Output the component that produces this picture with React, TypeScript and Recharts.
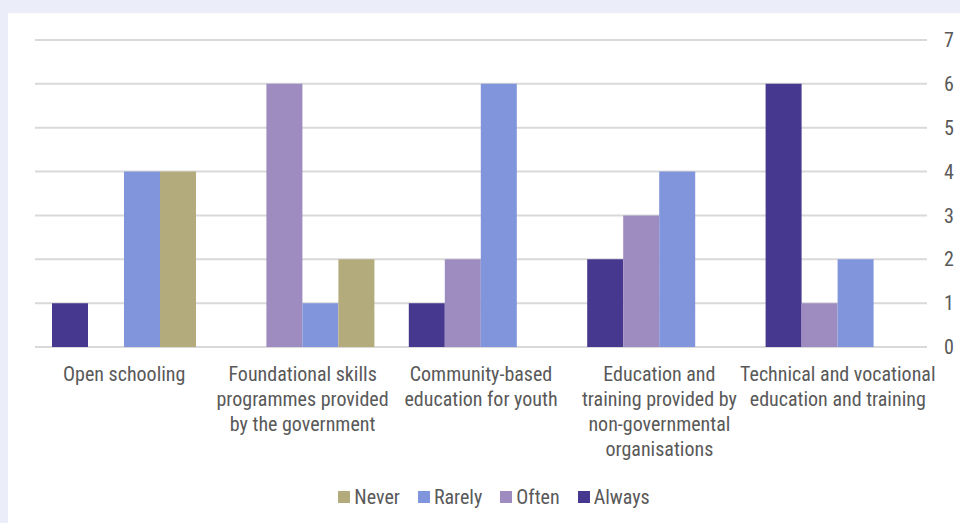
import { BarChart, Bar, XAxis, YAxis, CartesianGrid, Legend } from 'recharts';

const categories = [
  'Open schooling',
  'Foundational skills programmes provided by the government',
  'Community-based education for youth',
  'Education and training provided by non-governmental organisations',
  'Technical and vocational education and training',
];

// how each category label wraps under the axis
const categoryLines = [
  ['Open schooling'],
  ['Foundational skills', 'programmes provided', 'by the government'],
  ['Community-based', 'education for youth'],
  ['Education and', 'training provided by', 'non-governmental', 'organisations'],
  ['Technical and vocational', 'education and training'],
];

const always = [1, 0, 1, 2, 6];
const often = [0, 6, 2, 3, 1];
const rarely = [4, 1, 6, 4, 2];
const never = [4, 2, 0, 0, 0];

const yTicks = [0, 1, 2, 3, 4, 5, 6, 7];
const legendOrder = ['Never', 'Rarely', 'Often', 'Always'];

const COLORS: Record<string, string> = {
  Always: '#46378F',
  Often: '#9E8BC0',
  Rarely: '#8095DC',
  Never: '#B4AB7C',
};

const FONT = "'Roboto Condensed', 'Liberation Sans Narrow', sans-serif";
const TEXT = '#595959';

const data = categories.map((name, i) => ({
  name,
  Always: always[i],
  Often: often[i],
  Rarely: rarely[i],
  Never: never[i],
}));

function CategoryTick(props: any) {
  const { x, y, index } = props;
  const lines = categoryLines[index] || [props.payload.value];
  return (
    <text x={x} y={y} textAnchor="middle" fill={TEXT} fontSize={20} fontFamily={FONT}>
      {lines.map((line: string, i: number) => (
        <tspan key={i} x={x} dy={i === 0 ? 26 : 25}>
          {line}
        </tspan>
      ))}
    </text>
  );
}

function LegendContent(props: any) {
  const items = [...(props.payload || [])].sort(
    (a: any, b: any) => legendOrder.indexOf(a.value) - legendOrder.indexOf(b.value)
  );
  return (
    <div
      style={{
        display: 'flex',
        justifyContent: 'center',
        alignItems: 'center',
        height: 24,
        paddingRight: 7,
        fontFamily: FONT,
        fontSize: 20,
        color: TEXT,
      }}
    >
      {items.map((item: any) => (
        <div key={item.value} style={{ display: 'flex', alignItems: 'center', margin: '0 9px' }}>
          <span
            style={{ width: 12, height: 12, background: item.color, display: 'inline-block', marginRight: 4 }}
          />
          <span>{item.value}</span>
        </div>
      ))}
    </div>
  );
}

export default function App() {
  return (
    <div style={{ position: 'absolute', left: 0, top: 0, width: 960, height: 523, background: '#EBEDF8' }}>
      <div style={{ position: 'absolute', left: 8, top: 13, right: 0, bottom: 0, background: '#FFFFFF' }} />
      <div style={{ position: 'absolute', left: 0, top: 0 }}>
        <BarChart
          width={960}
          height={523}
          data={data}
          margin={{ top: 40, right: 0, left: 35, bottom: 14 }}
          barCategoryGap={17}
          barGap={0}
        >
          <CartesianGrid vertical={false} stroke="#D9D9D9" strokeWidth={2} />
          <XAxis
            dataKey="name"
            axisLine={false}
            tickLine={false}
            interval={0}
            height={138}
            tick={<CategoryTick />}
          />
          <YAxis
            orientation="right"
            domain={[0, 7]}
            ticks={yTicks}
            axisLine={false}
            tickLine={false}
            tickMargin={11}
            width={33}
            tick={{ fill: TEXT, fontSize: 20, fontFamily: FONT, textAnchor: 'start' }}
          />
          <Legend verticalAlign="bottom" content={<LegendContent />} />
          <Bar dataKey="Always" fill={COLORS.Always} isAnimationActive={false} />
          <Bar dataKey="Often" fill={COLORS.Often} isAnimationActive={false} />
          <Bar dataKey="Rarely" fill={COLORS.Rarely} isAnimationActive={false} />
          <Bar dataKey="Never" fill={COLORS.Never} isAnimationActive={false} />
        </BarChart>
      </div>
    </div>
  );
}
